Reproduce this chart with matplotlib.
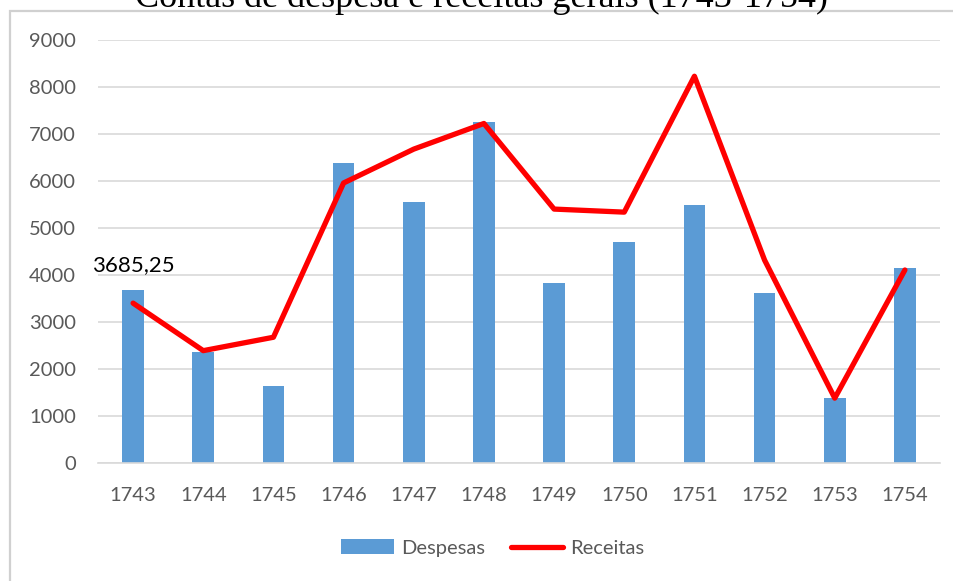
import matplotlib.pyplot as plt
from matplotlib.patches import Patch, Rectangle
from matplotlib.lines import Line2D

years = ['1743', '1744', '1745', '1746', '1747', '1748',
         '1749', '1750', '1751', '1752', '1753', '1754']
despesas = [3685.25, 2375, 1650, 6385, 5555, 7250, 3840, 4710, 5490, 3615, 1390, 4150]
receitas = [3405, 2395, 2680, 5960, 6680, 7225, 5405, 5340, 8230, 4320, 1385, 4110]
yticks = [0, 1000, 2000, 3000, 4000, 5000, 6000, 7000, 8000, 9000]

title = 'Contas de despesa e receitas gerais (1743-1754)'
label_txt = '3685,25'

gray = '#595959'
bar_color = '#5B9BD5'
line_color = '#FF0000'
grid_color = '#D9D9D9'
font = ['Lato', 'DejaVu Sans']

fig = plt.figure(figsize=(9.54, 5.81), dpi=100)
ax = fig.add_axes([98 / 954, 1 - 463.3 / 581, (940 - 98) / 954, (463.3 - 40) / 581])
ax.patch.set_alpha(0)

x = list(range(len(years)))
ax.bar(x, despesas, width=0.31, color=bar_color, zorder=2)
ax.plot(x, receitas, color=line_color, lw=3.8, solid_capstyle='round',
        solid_joinstyle='round', zorder=3)

ax.set_xlim(-0.5, len(years) - 0.5)
ax.set_ylim(0, 9000)
ax.set_yticks(yticks)
ax.set_xticks(x)
ax.set_xticklabels(years)
ax.grid(axis='y', color=grid_color, lw=1.2, zorder=0)
ax.set_axisbelow(True)
for s in ['top', 'right', 'left']:
    ax.spines[s].set_visible(False)
ax.spines['bottom'].set_color(grid_color)
ax.spines['bottom'].set_linewidth(1.2)
ax.tick_params(length=0, labelsize=14.5, labelcolor=gray)
ax.tick_params(axis='x', pad=17)
ax.tick_params(axis='y', pad=16)
for t in ax.get_xticklabels() + ax.get_yticklabels():
    t.set_family(font)

# data label on first bar
ax.annotate(label_txt, (0, despesas[0]), xytext=(0, 11), textcoords='offset points',
            ha='center', va='bottom', fontsize=16, color='black', family=font)

# chart frame (extends past the image edges)
fig.patches.append(Rectangle((10 / 954, -0.1), 1.2, 1.1 - 11 / 581,
                             transform=fig.transFigure, fill=False,
                             edgecolor='#D0D0D0', lw=1.6, zorder=0))

# title, mostly cut off at the top
fig.text(0.505, 1 - 7 / 581, title, ha='center', va='baseline', fontsize=26,
         family='Liberation Serif', color='black')

handles = [Patch(facecolor=bar_color, label='Despesas'),
           Line2D([0], [0], color=line_color, lw=3.8, solid_capstyle='round', label='Receitas')]
leg = fig.legend(handles=handles, loc='center', bbox_to_anchor=(493 / 954, 1 - 548 / 581),
                 ncol=2, frameon=False, handlelength=2.6, handletextpad=0.35,
                 columnspacing=1.3, prop={'family': font, 'size': 14.5})
for t in leg.get_texts():
    t.set_color(gray)

fig.savefig('out.png', dpi=100)
